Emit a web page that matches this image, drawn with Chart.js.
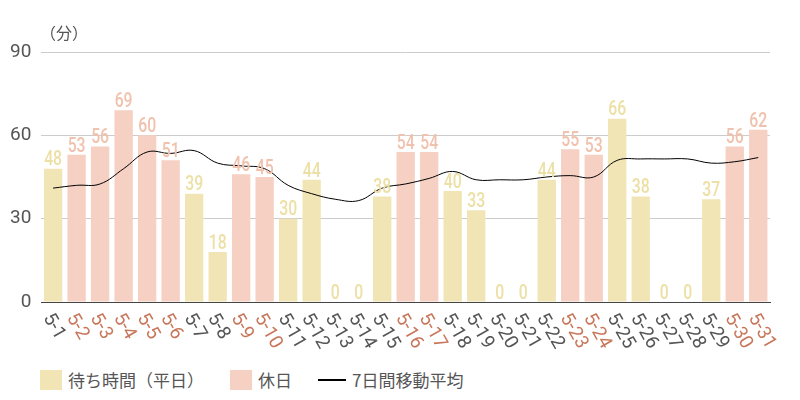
<!DOCTYPE html>
<html><head><meta charset="utf-8">
<script src="https://cdn.jsdelivr.net/npm/chart.js@4"></script>
<style>
body{margin:0;background:#fff;font-family:"Noto Sans CJK JP",sans-serif;}
#wrap{position:relative;width:800px;height:360px;}
#legend{position:absolute;top:367px;left:40px;font-size:17px;color:#555;display:flex;align-items:center;}
.sw{display:inline-block;width:22px;height:20px;margin-right:6px;}
.it{display:flex;align-items:center;margin-right:26px;}
#unit{position:absolute;left:40px;top:20px;font-size:16px;color:#555;}
</style></head><body>
<div id="wrap"><canvas id="c" width="800" height="360"></canvas><div id="unit">（分）</div></div>
<div id="legend">
<div class="it"><span class="sw" style="background:#f1e5b5"></span>待ち時間（平日）</div>
<div class="it"><span class="sw" style="background:#f5d0c3"></span>休日</div>
<div class="it"><span style="display:inline-block;width:28px;height:2px;background:#000;margin-right:6px"></span>7日間移動平均</div>
</div>
<script>
const categories=["5-1","5-2","5-3","5-4","5-5","5-6","5-7","5-8","5-9","5-10","5-11","5-12","5-13","5-14","5-15","5-16","5-17","5-18","5-19","5-20","5-21","5-22","5-23","5-24","5-25","5-26","5-27","5-28","5-29","5-30","5-31"];
const values=[48,53,56,69,60,51,39,18,46,45,30,44,0,0,38,54,54,40,33,0,0,44,55,53,66,38,0,0,37,56,62];
const holidays=["5-2","5-3","5-4","5-5","5-6","5-9","5-10","5-16","5-17","5-23","5-24","5-30","5-31"];
const movingAvg=[41,42,42.5,48,54,53.5,54.5,50,49,48,42,39,37,36.5,41,42.5,44.5,47,44,44,44,45,45.5,45,51,51.5,51.5,51.5,50,50.5,52];
const yTicks=[0,30,60,90];
const isHol=c=>holidays.includes(c);
const weekday=values.map((v,i)=>isHol(categories[i])?null:v);
const holiday=values.map((v,i)=>isHol(categories[i])?v:null);
const custom={id:'custom',afterDatasetsDraw(ch){
 const ctx=ch.ctx,x=ch.scales.x,y=ch.scales.y;
 ctx.save();
 ctx.font='500 21px Roboto';ctx.textAlign='center';ctx.textBaseline='bottom';
 values.forEach((v,i)=>{const h=isHol(categories[i]);ctx.fillStyle=h?'#f0c2ad':'#ede0a6';
   ctx.save();ctx.translate(x.getPixelForValue(i),y.getPixelForValue(v)+2);ctx.scale(0.75,1);ctx.fillText(v,0,0);ctx.restore();});
 ctx.font='19px Roboto';ctx.textAlign='left';ctx.textBaseline='middle';
 categories.forEach((c,i)=>{ctx.save();ctx.fillStyle=isHol(c)?'#c8765a':'#555';
   ctx.translate(x.getPixelForValue(i)-6,y.bottom+13);ctx.rotate(Math.PI/3);ctx.fillText(c,0,0);ctx.restore();});
 ctx.restore();}};
new Chart(document.getElementById('c'),{
 data:{labels:categories,datasets:[
  {type:'line',data:movingAvg,borderColor:'#000',borderWidth:1,pointRadius:0,tension:0.4,order:0},
  {type:'bar',data:weekday,backgroundColor:'#f1e5b5',categoryPercentage:0.78,barPercentage:1,order:1},
  {type:'bar',data:holiday,backgroundColor:'#f5d0c3',categoryPercentage:0.78,barPercentage:1,order:1}]},
 options:{responsive:false,animation:false,skipNull:true,
  layout:{padding:{left:0,right:30,top:52,bottom:50}},
  plugins:{legend:{display:false},tooltip:{enabled:false}},
  scales:{
   x:{grid:{display:false},ticks:{display:false},border:{color:'#444'}},
   y:{min:0,max:90,afterBuildTicks:s=>{s.ticks=yTicks.map(v=>({value:v}));},
      grid:{color:'#ccc',drawTicks:false},border:{display:false},
      ticks:{padding:10,font:{size:19,family:'Roboto'},color:'#555'}}}},
 plugins:[custom]});
</script></body></html>
